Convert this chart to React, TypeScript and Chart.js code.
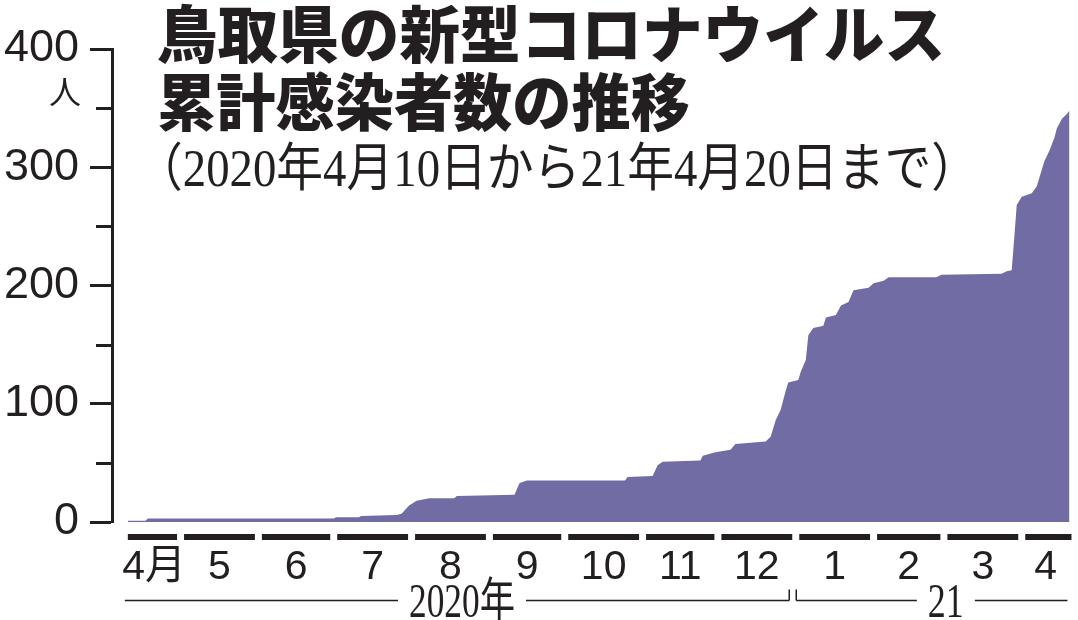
import React, { useEffect, useRef } from "react";
import { Chart, registerables } from "chart.js";

Chart.register(...registerables);

// ---------- text ----------
const TITLE_LINE1 = "鳥取県の新型コロナウイルス";
const TITLE_LINE2 = "累計感染者数の推移";
const SUBTITLE = "（2020年4月10日から21年4月20日まで）";
const Y_UNIT = "人";

// ---------- data (cumulative cases) ----------
const dates = [
  "2020-04-10", "2020-04-17", "2020-04-18", "2020-07-01", "2020-07-02", "2020-07-11",
  "2020-07-12", "2020-07-26", "2020-07-28", "2020-07-31", "2020-08-03", "2020-08-08",
  "2020-08-18", "2020-08-19", "2020-09-11", "2020-09-13", "2020-09-16", "2020-10-25",
  "2020-10-26", "2020-11-05", "2020-11-07", "2020-11-09", "2020-11-24", "2020-11-25",
  "2020-11-30", "2020-12-06", "2020-12-08", "2020-12-20", "2020-12-22", "2020-12-24",
  "2020-12-26", "2020-12-28", "2020-12-29", "2021-01-02", "2021-01-03", "2021-01-05",
  "2021-01-06", "2021-01-08", "2021-01-12", "2021-01-13", "2021-01-17", "2021-01-19",
  "2021-01-22", "2021-01-24", "2021-01-30", "2021-02-01", "2021-02-05", "2021-02-07",
  "2021-02-26", "2021-02-28", "2021-03-24", "2021-03-26", "2021-03-28", "2021-03-29",
  "2021-03-30", "2021-04-01", "2021-04-05", "2021-04-07", "2021-04-09", "2021-04-10",
  "2021-04-12", "2021-04-14", "2021-04-15", "2021-04-17", "2021-04-19", "2021-04-20",
];
const cases = [
  1, 1, 3, 3, 4, 4,
  5, 6, 7, 14, 18, 20,
  20, 22, 23, 33, 35, 35,
  38, 39, 48, 51, 52, 56,
  59, 61, 66, 68, 72, 86,
  95, 111, 118, 120, 127, 137,
  158, 164, 166, 173, 175, 183,
  186, 196, 198, 202, 204, 207,
  207, 209, 210, 212, 213, 240,
  268, 275, 278, 284, 298, 305,
  314, 325, 333, 341, 345, 348,
];

// ---------- axes ----------
const monthLabels = ["4月", "5", "6", "7", "8", "9", "10", "11", "12", "1", "2", "3", "4"];
const monthStarts = [
  "2020-04-10", "2020-05-01", "2020-06-01", "2020-07-01", "2020-08-01", "2020-09-01",
  "2020-10-01", "2020-11-01", "2020-12-01", "2021-01-01", "2021-02-01", "2021-03-01",
  "2021-04-01",
];
const periodEnd = "2021-04-20";
const yearLabels = ["2020年", "21"];
const yearStarts = ["2020-04-10", "2021-01-01"];
const yTicks = [0, 50, 100, 150, 200, 250, 300, 350, 400];

// ---------- style ----------
const INK = "#231f20";
const FILL = "#716ca4";
const SANS = '"Liberation Sans", "Noto Sans CJK JP", sans-serif';
const SERIF = '"Liberation Serif", "Noto Sans CJK JP", serif';
const GOTHIC = '"Noto Sans CJK JP", sans-serif';
const X_MIN = -6.3;
const X_MAX = 376.2;

const ORIGIN = Date.UTC(2020, 3, 10);
const dayOf = (s: string) => {
  const [y, m, d] = s.split("-").map(Number);
  return (Date.UTC(y, m - 1, d) - ORIGIN) / 86400000;
};

const monthBounds = [...monthStarts.map(dayOf), dayOf(periodEnd)];
const monthCenters = monthLabels.map((_, i) => (monthBounds[i] + monthBounds[i + 1]) / 2);

const decorPlugin = {
  id: "decor",
  afterDraw(chart: any) {
    const { ctx, scales, chartArea } = chart;
    const x = scales.x;
    const y = scales.y;
    const bottom = chartArea.bottom;
    ctx.save();

    // minor y ticks
    ctx.strokeStyle = INK;
    ctx.lineWidth = 3;
    yTicks
      .filter((v) => v % 100 !== 0)
      .forEach((v) => {
        const py = Math.round(y.getPixelForValue(v)) + 0.5;
        ctx.beginPath();
        ctx.moveTo(chartArea.left - 16, py);
        ctx.lineTo(chartArea.left, py);
        ctx.stroke();
      });

    // unit label
    ctx.fillStyle = INK;
    ctx.font = `32px ${GOTHIC}`;
    ctx.textAlign = "center";
    ctx.textBaseline = "middle";
    ctx.fillText(Y_UNIT, 65, y.getPixelForValue(400) + 43);

    // month bars
    for (let i = 0; i < monthLabels.length; i++) {
      const a = x.getPixelForValue(monthBounds[i]) + (i === 0 ? 0 : 3.5);
      const b = x.getPixelForValue(monthBounds[i + 1]) + (i === monthLabels.length - 1 ? 2 : -3.5);
      ctx.fillRect(a, bottom + 12, b - a, 6);
    }

    // year brackets
    const lineY = bottom + 78.5;
    ctx.lineWidth = 1.5;
    ctx.font = `48px ${SERIF}`;
    ctx.textBaseline = "alphabetic";
    const yb = [...yearStarts.map(dayOf), dayOf(periodEnd)];
    for (let i = 0; i < yearLabels.length; i++) {
      const a = i === 0 ? x.getPixelForValue(yb[i]) - 3 : x.getPixelForValue(yb[i]) + 0.5;
      const b = i === yearLabels.length - 1 ? x.getPixelForValue(yb[i + 1]) - 2 : x.getPixelForValue(yb[i + 1]) - 6.5;
      const tw = i === 0 ? 106 : 36;
      const cx = i === 0 ? (a + b) / 2 + 5 : (a + b) / 2 + 14;
      ctx.beginPath();
      ctx.moveTo(a, lineY);
      ctx.lineTo(cx - tw / 2 - 11, lineY);
      ctx.moveTo(cx + tw / 2 + 11, lineY);
      ctx.lineTo(b, lineY);
      if (i === 0) {
        ctx.moveTo(b, lineY);
        ctx.lineTo(b, lineY - 11);
      } else {
        ctx.moveTo(a, lineY);
        ctx.lineTo(a, lineY - 11);
      }
      ctx.stroke();
      ctx.textAlign = "center";
      ctx.fillText(yearLabels[i], cx, 617, tw);
    }

    // titles
    ctx.textAlign = "left";
    ctx.textBaseline = "alphabetic";
    ctx.font = `900 62px ${GOTHIC}`;
    ctx.fillText(TITLE_LINE1, 157, 58, 788);
    ctx.fillText(TITLE_LINE2, 157, 126, 533);
    ctx.font = `52px ${SERIF}`;
    ctx.fillText(SUBTITLE, 136, 186, 842);

    ctx.restore();
  },
};

export default function App() {
  const ref = useRef<HTMLCanvasElement | null>(null);

  useEffect(() => {
    document.body.style.margin = "0";
    const canvas = ref.current;
    if (!canvas) return;
    const chart = new Chart(canvas, {
      type: "line",
      data: {
        datasets: [
          {
            data: dates.map((d, i) => ({ x: dayOf(d), y: cases[i] })),
            fill: "origin",
            backgroundColor: FILL,
            borderWidth: 0,
            pointRadius: 0,
            tension: 0,
          },
        ],
      },
      options: {
        animation: false,
        responsive: false,
        maintainAspectRatio: false,
        layout: { padding: { top: 49, left: 0, right: 0, bottom: 0 } },
        plugins: { legend: { display: false }, tooltip: { enabled: false } },
        scales: {
          x: {
            type: "linear",
            min: X_MIN,
            max: X_MAX,
            border: { display: false },
            grid: { display: false, drawTicks: false },
            afterBuildTicks: (s: any) => {
              s.ticks = monthCenters.map((v) => ({ value: v }));
            },
            afterFit: (s: any) => {
              s.height = 98;
            },
            ticks: {
              autoSkip: false,
              maxRotation: 0,
              minRotation: 0,
              padding: 21,
              color: INK,
              font: { family: SANS, size: 41 },
              callback: (_v: any, i: number) => monthLabels[i],
            },
          },
          y: {
            min: 0,
            max: 400,
            afterBuildTicks: (s: any) => {
              s.ticks = yTicks.map((v) => ({ value: v }));
            },
            afterFit: (s: any) => {
              s.width = 112;
            },
            border: { display: true, width: 3, color: INK },
            grid: {
              drawOnChartArea: false,
              drawTicks: true,
              tickLength: 22,
              tickWidth: 3,
              tickColor: (c: any) => (c.tick && c.tick.value % 100 === 0 ? INK : "rgba(0,0,0,0)"),
            },
            ticks: {
              padding: 11,
              color: INK,
              font: { family: SANS, size: 45 },
              callback: (v: any) => (Number(v) % 100 === 0 ? String(v) : ""),
            },
          },
        },
      },
      plugins: [decorPlugin],
    });
    return () => chart.destroy();
  }, []);

  return (
    <div style={{ width: 1078, height: 620, position: "relative", background: "#fff" }}>
      <canvas ref={ref} width={1078} height={620} style={{ display: "block" }} />
    </div>
  );
}
